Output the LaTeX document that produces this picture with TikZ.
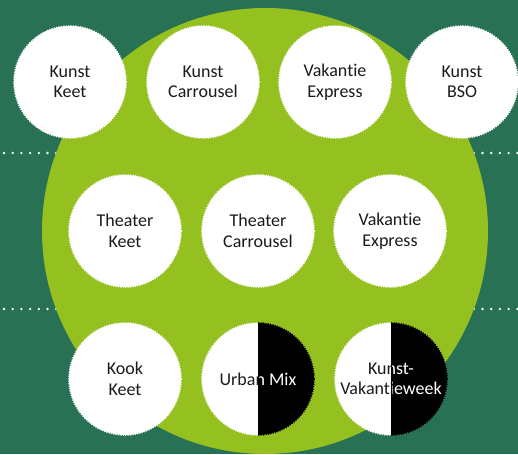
\documentclass[tikz,border=0pt]{standalone}
\usepackage{fontspec}
\setmainfont{Carlito}[Ligatures=NoCommon]
\definecolor{darkbg}{HTML}{287155}
\definecolor{lime}{HTML}{94C11F}
\definecolor{txt}{HTML}{1A1A1A}
\tikzset{
  bubble/.style={circle, fill=white, draw=white, line width=1.6pt, dash pattern=on 1.2pt off 1.2pt, minimum size=112pt, inner sep=0pt},
  label/.style={align=center, font=\fontsize{18}{20.5}\selectfont, text=txt},
  dotline/.style={white, line width=2.6pt, line cap=round, dash pattern=on 0pt off 8.7pt}
}
\newcommand{\splitbubble}[4]{%
  % #1 name, #2 x, #3 y, #4 text
  \fill[white] (#2,#3) circle (56);
  \begin{scope}
    \clip (#2,#3-60) rectangle (#2+60,#3+60);
    \fill[black] (#2,#3) circle (56);
    \draw[black, line width=1.6pt, dash pattern=on 1.2pt off 1.2pt] (#2,#3) circle (56);
  \end{scope}
  \begin{scope}
    \clip (#2-60,#3-60) rectangle (#2,#3+60);
    \draw[white, line width=1.6pt, dash pattern=on 1.2pt off 1.2pt] (#2,#3) circle (56);
    \node[label] (#1) at (#2,#3) {#4};
  \end{scope}
  \begin{scope}
    \clip (#2,#3-60) rectangle (#2+60,#3+60);
    \node[label, text=white] (#1w) at (#2,#3) {#4};
  \end{scope}
  \draw[black, line width=0.8pt] (#2,#3-56) -- (#2,#3+56);
}
\begin{document}
\begin{tikzpicture}[x=1pt, y=-1pt]
\useasboundingbox (0,0) rectangle (518,454);
\fill[darkbg] (0,0) rectangle (518,454);
\coordinate (l1a) at (4,153); \coordinate (l1b) at (518,153);
\coordinate (l2a) at (4,309); \coordinate (l2b) at (518,309);
\draw[dotline] (l1a) -- (l1b);
\draw[dotline] (l2a) -- (l2b);
\begin{scope}
\clip (0,0) rectangle (518,454);
\fill[lime] (265,231) circle (223);
\end{scope}
% row 1
\node[bubble] (kk) at (70,82) {};
\node[label] (kkt) at (kk) {Kunst\\Keet};
\node[bubble] (kc) at (203,82) {};
\node[label] (kct) at (kc) {Kunst\\Carrousel};
\node[bubble] (ve1) at (335,82) {};
\node[label] (ve1t) at (ve1) {Vakantie\\Express};
\node[bubble] (kb) at (462,82) {};
\node[label] (kbt) at (kb) {Kunst\\BSO};
% row 2
\node[bubble] (tk) at (125,231) {};
\node[label] (tkt) at (tk) {Theater\\Keet};
\node[bubble] (tc) at (258,231) {};
\node[label] (tct) at (tc) {Theater\\Carrousel};
\node[bubble] (ve2) at (390,231) {};
\node[label] (ve2t) at (ve2) {Vakantie\\Express};
% row 3
\node[bubble] (ook) at (125,379) {};
\node[label] (ookt) at (ook) {Kook\\Keet};
\splitbubble{um}{258}{379}{Urban Mix}
\splitbubble{kv}{391}{379}{Kunst-\\Vakantieweek}
\end{tikzpicture}
\end{document}
